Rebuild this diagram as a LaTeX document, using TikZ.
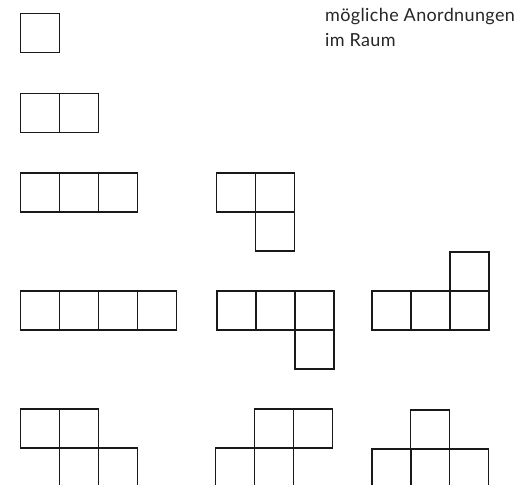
\documentclass[tikz,border=0pt]{standalone}
\usepackage{fontspec}
\setmainfont{Lato}
\begin{document}
\begin{tikzpicture}[x=1pt,y=-1pt,
  cellbox/.style={draw=black!90,line width=1.5pt,line join=miter},
  lbl/.style={anchor=base west,inner sep=0pt,text=black!85,font=\fontsize{18}{22}\selectfont\addfontfeature{LetterSpace=2}}]
\useasboundingbox (0,0) rectangle (529,484);
\clip (0,0) rectangle (529,484);
\def\s{39}
\newcommand\mycell[2]{\draw[cellbox] (#1,#2) rectangle ++(\s,\s);}
% row 1
\mycell{20.5}{13.5}
% row 2
\mycell{20.5}{93.5}\mycell{59.5}{93.5}
% row 3
\mycell{20.5}{173}\mycell{59.5}{173}\mycell{98.5}{173}
\mycell{216.5}{173}\mycell{255.5}{173}\mycell{255.5}{212}
% row 4
\mycell{20.5}{291}\mycell{59.5}{291}\mycell{98.5}{291}\mycell{137.5}{291}
\mycell{217}{291}\mycell{256}{291}\mycell{295}{291}\mycell{295}{330}
\mycell{372}{291}\mycell{411}{291}\mycell{450}{291}\mycell{450}{252}
% row 5
\mycell{20.5}{409}\mycell{59.5}{409}\mycell{59.5}{448}\mycell{98.5}{448}
\mycell{254.5}{409}\mycell{293.5}{409}\mycell{215.5}{448}\mycell{254.5}{448}
\mycell{410.5}{410}\mycell{372}{449}\mycell{410.5}{449}\mycell{449.5}{449}
% text
\node[lbl] (t1) at (325,21.7) {mögliche Anordnungen};
\node[lbl] (t2) at (325,47) {im Raum};
\end{tikzpicture}
\end{document}
